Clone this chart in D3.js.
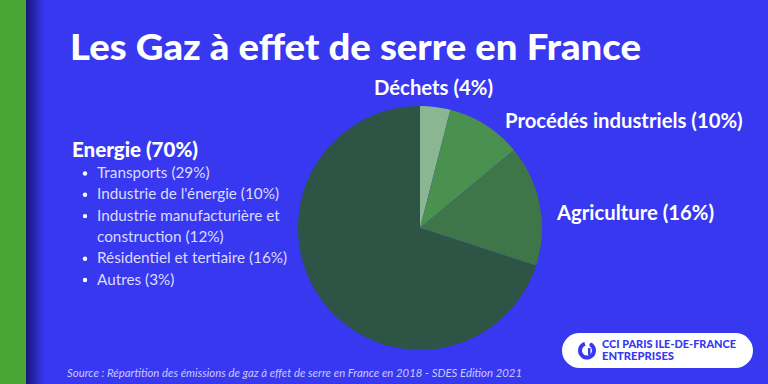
<!DOCTYPE html>
<html>
<head>
<meta charset="utf-8">
<script src="https://cdn.jsdelivr.net/npm/d3@7"></script>
<style>
  html, body { margin: 0; padding: 0; background: #3838f0; }
  svg { display: block; }
</style>
</head>
<body>
<div id="chart"></div>
<script>
// Data
const sectors = ['Déchets', 'Procédés industriels', 'Agriculture', 'Energie'];
const shares = [4, 10, 16, 70];
const sectorColors = ['#8ab792', '#4a9150', '#3e7549', '#2e5446'];
const energySub = ['Transports (29%)', "Industrie de l'énergie (10%)", 'Industrie manufacturière et|construction (12%)', 'Résidentiel et tertiaire (16%)', 'Autres (3%)'];

const width = 768, height = 384;

const svg = d3.select('#chart')
  .append('svg')
  .attr('width', width)
  .attr('height', height)
  .attr('viewBox', [0, 0, width, height]);

// background + green strip + shadow
const defs = svg.append('defs');
const grad = defs.append('linearGradient').attr('id', 'shadow');
grad.append('stop').attr('offset', '0%').attr('stop-color', '#0a0a50').attr('stop-opacity', 0.75);
grad.append('stop').attr('offset', '100%').attr('stop-color', '#0a0a50').attr('stop-opacity', 0);

svg.append('rect').attr('width', width).attr('height', height).attr('fill', '#3838f0');
svg.append('rect').attr('x', 26).attr('width', 18).attr('height', height).attr('fill', 'url(#shadow)');
svg.append('rect').attr('width', 26).attr('height', height).attr('fill', '#4aa634');

// title
svg.append('text')
  .attr('x', 70).attr('y', 60)
  .attr('fill', '#fff')
  .attr('font-family', 'Lato, sans-serif')
  .attr('font-weight', 900)
  .attr('font-size', 36)
  .attr('textLength', 571)
  .attr('lengthAdjust', 'spacingAndGlyphs')
  .text('Les Gaz à effet de serre en France');

// pie
const cx = 420, cy = 228, r = 122;
const pie = d3.pie().sort(null).value(d => d)(shares);
const arc = d3.arc().innerRadius(0).outerRadius(r);

svg.append('g')
  .attr('transform', `translate(${cx},${cy})`)
  .selectAll('path')
  .data(pie)
  .join('path')
  .attr('d', arc)
  .attr('fill', (d, i) => sectorColors[i]);

// slice labels
const labelPos = [
  { x: 374, y: 95 },
  { x: 505, y: 128 },
  { x: 557, y: 220 }
];
svg.append('g')
  .selectAll('text')
  .data(labelPos)
  .join('text')
  .attr('x', d => d.x)
  .attr('y', d => d.y)
  .attr('fill', '#fff')
  .attr('font-family', 'Lato, sans-serif')
  .attr('font-weight', 700)
  .attr('font-size', 20.3)
  .text((d, i) => `${sectors[i]} (${shares[i]}%)`);

// energy block
svg.append('text')
  .attr('x', 72).attr('y', 157)
  .attr('fill', '#fff')
  .attr('font-family', 'Lato, sans-serif')
  .attr('font-weight', 900)
  .attr('font-size', 20.5)
  .text(`${sectors[3]} (${shares[3]}%)`);

let line = 0;
const lineH = 21.3;
const listG = svg.append('g')
  .attr('font-family', 'Lato, sans-serif')
  .attr('font-size', 15.3)
  .attr('fill', '#dcdcff');
energySub.forEach(item => {
  const parts = item.split('|');
  const y0 = 178 + line * lineH;
  listG.append('circle').attr('cx', 85).attr('cy', y0 - 4.5).attr('r', 2.2).attr('fill', '#fff');
  parts.forEach((p, j) => {
    listG.append('text')
      .attr('x', 97)
      .attr('y', 178 + (line + j) * lineH)
      .text(p);
  });
  line += parts.length;
});

// logo
const logo = svg.append('g');
logo.append('rect')
  .attr('x', 562).attr('y', 333).attr('width', 191).attr('height', 35)
  .attr('rx', 17.5).attr('fill', '#fff');
const icon = d3.arc().innerRadius(5).outerRadius(9).startAngle(0.5).endAngle(2 * Math.PI - 0.3);
logo.append('path').attr('d', icon()).attr('transform', 'translate(587,350.5)').attr('fill', '#3838f0');
logo.append('rect').attr('x', 588).attr('y', 348).attr('width', 2.5).attr('height', 7).attr('fill', '#3838f0');
logo.append('circle').attr('cx', 591).attr('cy', 344.5).attr('r', 1.6).attr('fill', '#3838f0');
logo.append('text')
  .attr('x', 602).attr('y', 347.5)
  .attr('fill', '#3838f0')
  .attr('font-family', 'Lato, sans-serif')
  .attr('font-weight', 900)
  .attr('font-size', 11.5)
  .attr('textLength', 134)
  .attr('lengthAdjust', 'spacingAndGlyphs')
  .text('CCI PARIS ILE-DE-FRANCE');
logo.append('text')
  .attr('x', 602).attr('y', 359.5)
  .attr('fill', '#3838f0')
  .attr('font-family', 'Lato, sans-serif')
  .attr('font-weight', 900)
  .attr('font-size', 11.5)
  .attr('textLength', 72)
  .attr('lengthAdjust', 'spacingAndGlyphs')
  .text('ENTREPRISES');

// source
svg.append('text')
  .attr('x', 67).attr('y', 377)
  .attr('fill', '#c8c8ff')
  .attr('font-family', 'Lato, sans-serif')
  .attr('font-style', 'italic')
  .attr('font-size', 11)
  .attr('textLength', 455)
  .attr('lengthAdjust', 'spacingAndGlyphs')
  .text('Source : Répartition des émissions de gaz à effet de serre en France en 2018 - SDES Edition 2021');
</script>
</body>
</html>
